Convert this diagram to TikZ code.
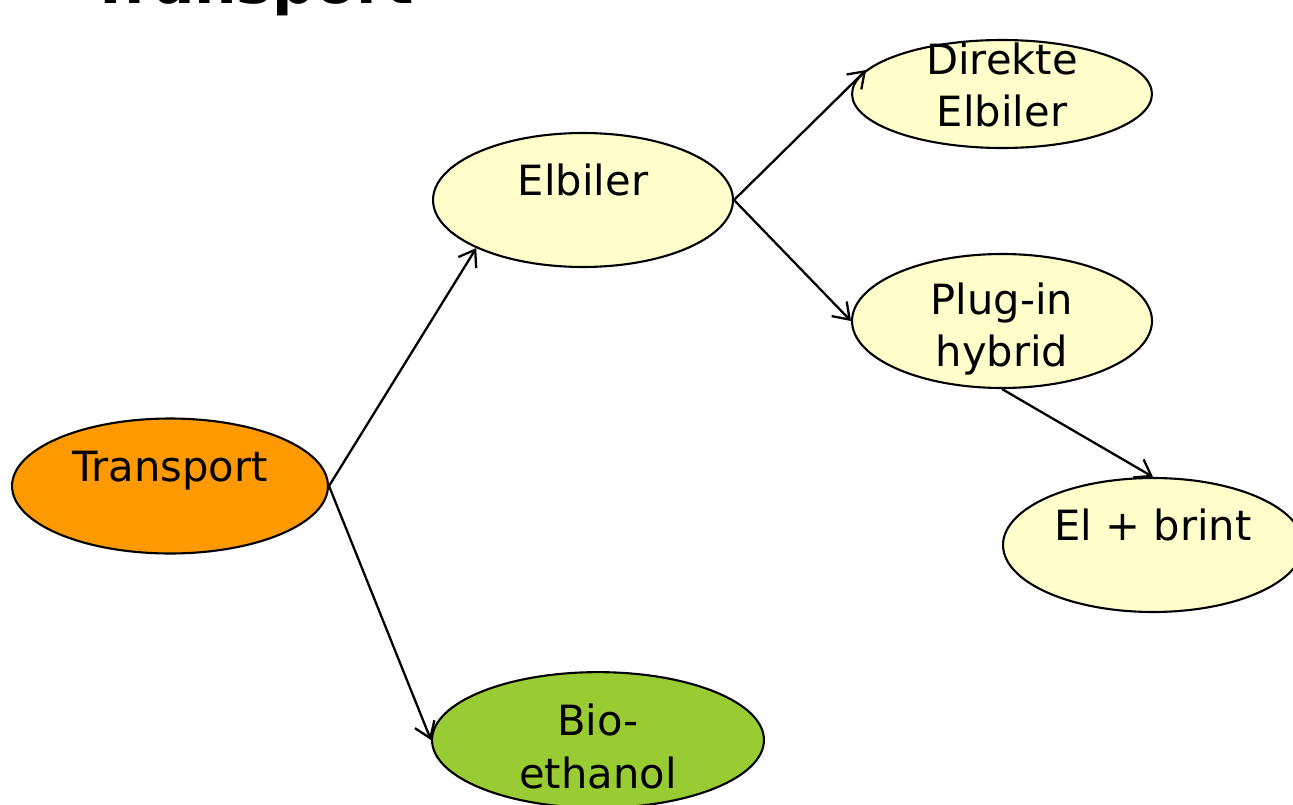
\documentclass[tikz,border=0pt]{standalone}
\usepackage{fontspec}
\setmainfont{DejaVu Sans}
\usetikzlibrary{shapes.geometric,arrows.meta}

\definecolor{paleyellow}{HTML}{FFFFCC}
\definecolor{orangefill}{HTML}{FF9900}
\definecolor{greenfill}{HTML}{99CC33}

\tikzset{
  bubble/.style={ellipse, draw, line width=1.2pt, inner sep=0pt, align=center,
    minimum width=6cm, minimum height=2.68cm,
    font=\fontsize{23.7pt}{29.6pt}\selectfont},
  textdrop/.style={text height=0pt, text depth=#1},
  textdrop/.default=0.2cm,
  textlift/.style={text depth=0pt, text height=#1},
  link/.style={-{Straight Barb[length=3mm,width=4.2mm]}, line width=1.3pt}
}

\begin{document}
\begin{tikzpicture}[x=0.02cm, y=-0.02cm]
\useasboundingbox (0,0) rectangle (1293,804);

% title, cut by the top edge
\node[anchor=base west, inner sep=0pt, font=\fontsize{34pt}{40pt}\selectfont\bfseries] (title) at (90,4) {Transport};

% the tree
\node[bubble, textdrop, fill=orangefill, minimum width=6.32cm, minimum height=2.7cm] (transport) at (170,486) {Transport};
\node[bubble, textdrop, fill=paleyellow] (elbiler) at (583,200) {Elbiler};
\node[bubble, textlift=1.32cm, fill=paleyellow, minimum height=2.16cm] (direkte) at (1002,94) {Direkte\\Elbiler};
\node[bubble, textlift=1.84cm, fill=paleyellow] (plugin) at (1002,321) {Plug-in\\hybrid};
\node[bubble, textdrop, fill=paleyellow] (brint) at (1153,545) {El + brint};
\node[bubble, textlift=1.92cm, fill=greenfill, minimum width=6.64cm] (bio) at (598,740) {Bio-\\ethanol};

\draw[link] (transport.east) -- (elbiler.south west);
\draw[link] (transport.east) -- (bio.west);
\draw[link] (elbiler.east) -- (direkte.170);
\draw[link] (elbiler.east) -- (plugin.west);
\draw[link] (plugin.south) -- (brint.north);

\end{tikzpicture}
\end{document}
